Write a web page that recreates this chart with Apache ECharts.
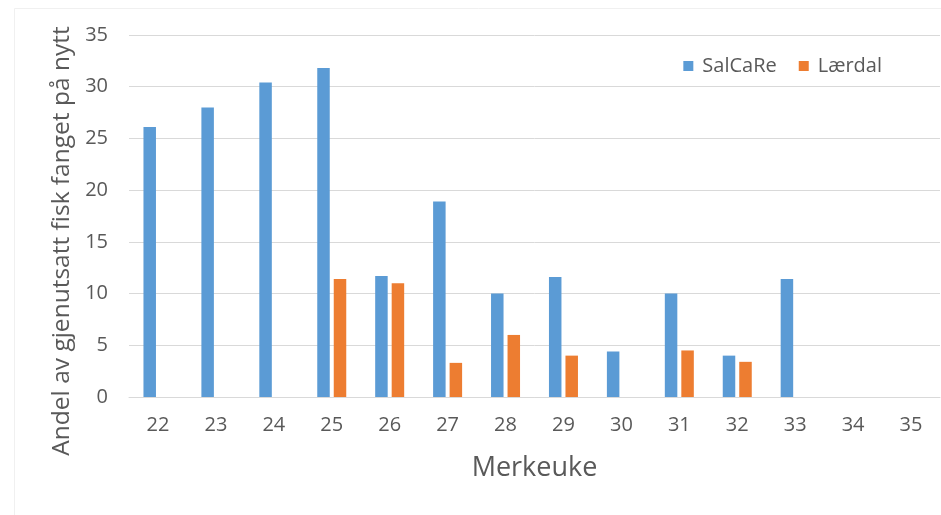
<!DOCTYPE html>
<html>
<head>
<meta charset="utf-8">
<script src="https://cdn.jsdelivr.net/npm/echarts@6/dist/echarts.min.js"></script>
<style>html,body{margin:0;padding:0;background:#fff}#c{width:941px;height:515px}</style>
</head>
<body>
<div id="c"></div>
<script>
const categories = ['22','23','24','25','26','27','28','29','30','31','32','33','34','35'];
const salcare = [26.1, 28.0, 30.4, 31.8, 11.7, 18.9, 10.0, 11.6, 4.4, 10.0, 4.0, 11.4, null, null];
const laerdal = [null, null, null, 11.4, 11.0, 3.3, 6.0, 4.0, null, 4.5, 3.4, null, null, null];
const seriesNames = ['SalCaRe', 'Lærdal'];
const yAxisTitle = 'Andel av gjenutsatt fisk fanget på nytt';
const xAxisTitle = 'Merkeuke';

const font = 'Open Sans';
const chart = echarts.init(document.getElementById('c'), null, {renderer: 'canvas'});
chart.setOption({
  animation: false,
  backgroundColor: '#fff',
  textStyle: {fontFamily: font},
  grid: {left: 129, right: 1, top: 35, bottom: 118, containLabel: false},
  legend: {
    data: seriesNames,
    right: 54, top: 51,
    itemWidth: 10, itemHeight: 10, itemGap: 22,
    icon: 'rect',
    textStyle: {fontFamily: font, fontSize: 20, color: '#595959', padding: [0, 0, 0, 4]}
  },
  graphic: [
    {type: 'rect', shape: {x: 14.5, y: 8.5, width: 940, height: 520}, style: {fill: 'none', stroke: '#f0f0f0', lineWidth: 1}, silent: true},
    {type: 'text', x: 62, y: 241, rotation: Math.PI / 2,
     style: {text: yAxisTitle, fontFamily: font, fontSize: 24.5, fill: '#595959', align: 'center', verticalAlign: 'middle'}}
  ],
  xAxis: {
    type: 'category',
    data: categories,
    name: xAxisTitle,
    nameLocation: 'middle',
    nameGap: 58,
    nameTextStyle: {fontFamily: font, fontSize: 27, color: '#595959'},
    axisLine: {lineStyle: {color: '#d9d9d9', width: 1}},
    axisTick: {show: false},
    axisLabel: {margin: 18, fontSize: 20, color: '#595959', fontFamily: font}
  },
  yAxis: {
    type: 'value',
    min: 0, max: 35, interval: 5,
    axisLine: {show: false},
    axisTick: {show: false},
    axisLabel: {margin: 21, fontSize: 20, color: '#595959', fontFamily: font},
    splitLine: {lineStyle: {color: '#d9d9d9', width: 1}}
  },
  series: [
    {name: seriesNames[0], type: 'bar', data: salcare, barWidth: 12.5, barGap: '32%', itemStyle: {color: '#5b9bd5'}},
    {name: seriesNames[1], type: 'bar', data: laerdal, barWidth: 12.5, barGap: '32%', itemStyle: {color: '#ed7d31'}}
  ]
});
</script>
</body>
</html>
